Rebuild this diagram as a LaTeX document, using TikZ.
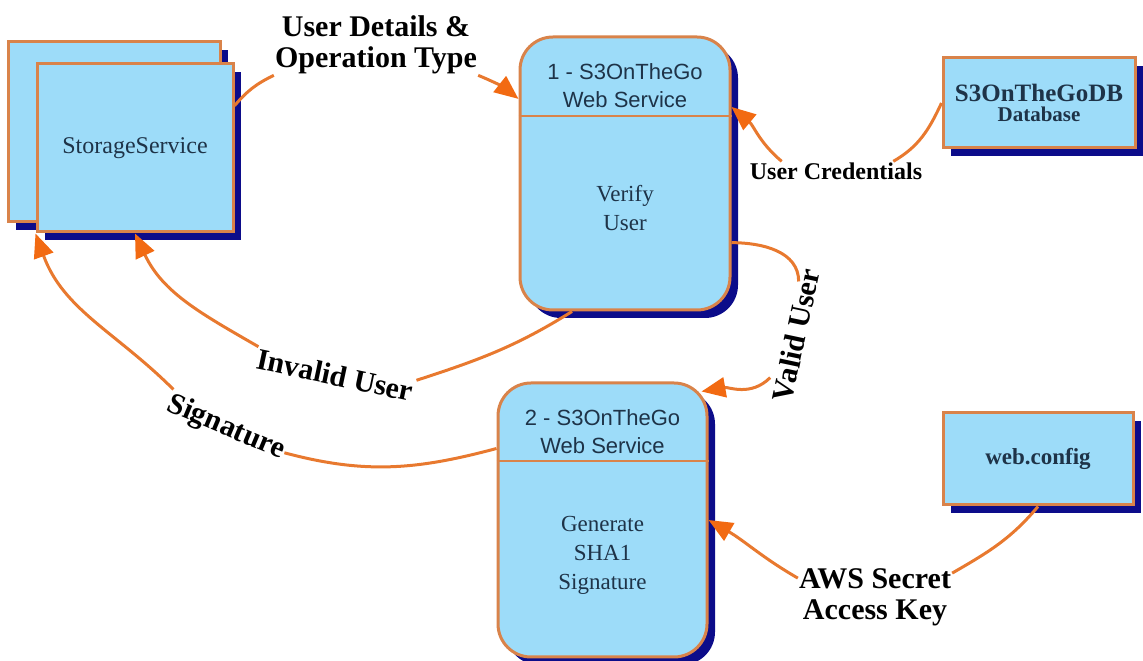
\documentclass[tikz,border=0pt]{standalone}
\usepackage{fontspec}
\setmainfont{Liberation Serif}
\newfontfamily\headfont{Liberation Sans}
\usetikzlibrary{arrows.meta,shadows}
\definecolor{panelfill}{HTML}{9DDCF9}
\definecolor{paneledge}{HTML}{D9834A}
\definecolor{panelshade}{HTML}{0C0C8A}
\definecolor{paneltext}{HTML}{1E3348}
\definecolor{flowline}{HTML}{E8792F}
\definecolor{flowtip}{HTML}{F26A12}

\begin{document}
\begin{tikzpicture}[
  x=1pt,
  y=1pt,
  panel/.style={draw=paneledge, line width=3pt, fill=panelfill, inner sep=0pt,
    text=paneltext,
    drop shadow={shadow xshift=8pt, shadow yshift=-8pt, fill=panelshade, opacity=1}},
  process/.style={panel, rounded corners=33pt},
  headtxt/.style={font=\headfont\fontsize{22}{28}\selectfont, align=center,
    text=paneltext, inner sep=0pt},
  bodytxt/.style={font=\fontsize{23}{29}\selectfont, align=center,
    text=paneltext, inner sep=0pt},
  tag/.style={font=\bfseries\fontsize{30}{31}\selectfont, align=center, inner sep=1pt},
  flow/.style={draw=flowline, line width=3pt},
  feed/.style={flow, -{Triangle[length=24pt, width=20pt, color=flowtip]}}
]
  \useasboundingbox (0,0) rectangle (1143,661);

  % ---- external entities ------------------------------------------------
  \node[panel, minimum width=212pt, minimum height=180pt] (storeback) at (114,529) {};
  \node[panel, minimum width=196pt, minimum height=168pt,
        font=\fontsize{24}{28}\selectfont] (store) at (135,513) {StorageService};

  \node[panel, minimum width=192pt, minimum height=90pt, align=center,
        font=\bfseries\fontsize{25}{20}\selectfont] (usersdb) at (1039,558)
        {S3OnTheGoDB\\{\fontsize{21}{20}\selectfont Database}};
  \node[panel, minimum width=190pt, minimum height=92pt,
        font=\bfseries\fontsize{23}{26}\selectfont] (webcfg) at (1038,202) {web.config};

  % ---- processes ----------------------------------------------------------
  \node[process, minimum width=210pt, minimum height=273pt] (verify) at (625,487.5) {};
  \draw[draw=paneledge, line width=2pt]
    ([yshift=-81pt]verify.north west) -- ([yshift=-81pt]verify.north east);
  \node[headtxt] (verifyhead) at ([yshift=-50pt]verify.north) {1 - S3OnTheGo\\Web Service};
  \node[bodytxt] (verifybody) at ([yshift=-35pt]verify.center) {Verify\\User};

  \node[process, minimum width=209pt, minimum height=274pt] (sign) at (602.5,141) {};
  \draw[draw=paneledge, line width=2pt]
    ([yshift=-80pt]sign.north west) -- ([yshift=-80pt]sign.north east);
  \node[headtxt] (signhead) at ([yshift=-50pt]sign.north) {2 - S3OnTheGo\\Web Service};
  \node[bodytxt] (signbody) at ([yshift=-35pt]sign.center) {Generate\\SHA1\\Signature};

  % ---- flow labels --------------------------------------------------------
  \node[tag] (details) at (376,616) {User Details \&\\Operation Type};
  \node[tag, font=\bfseries\fontsize{24}{28}\selectfont] (creds) at (836,490) {User Credentials};
  \node[tag, rotate=78] (valid) at (796,326) {Valid User};
  \node[tag, rotate=-12] (invalid) at (335,286) {Invalid User};
  \node[tag, rotate=-23] (sig) at (226,233) {Signature};
  \node[tag] (awskey) at (875,64) {AWS Secret\\Access Key};

  % ---- data flows ---------------------------------------------------------
  \draw[flow] (store.23) to[bend left=12] (details.south west);
  \draw[feed] (details.south east) to[bend left=8] (verify.145);

  \draw[flow] (usersdb.west) to[out=-115, in=30] ([xshift=-30pt]creds.north east);
  \draw[feed] ([xshift=33pt]creds.north west) to[out=140, in=-40] (verify.32);

  \draw[flow] (verify.-33) to[out=0, in=90] ([yshift=-16pt]valid.north east);
  \draw[feed] ([yshift=22pt]valid.north west) to[out=-135, in=10]
    ([shift={(-7pt,-10pt)}]sign.north east);

  \draw[flow] ([xshift=-53pt]verify.south) to[out=-148, in=18] (invalid.north east);
  \draw[feed] (invalid.north west) to[out=150, in=-65] (store.south);

  \draw[flow] (sign.146) to[out=195, in=-15] (sig.east);
  \draw[feed] (sig.north west) to[out=135, in=-70] (store.south west);

  \draw[flow] (webcfg.south) to[out=-130, in=30] ([yshift=-6pt]awskey.north east);
  \draw[feed] ([yshift=-11pt]awskey.north west) to[out=150, in=-30] (sign.east);
\end{tikzpicture}
\end{document}
